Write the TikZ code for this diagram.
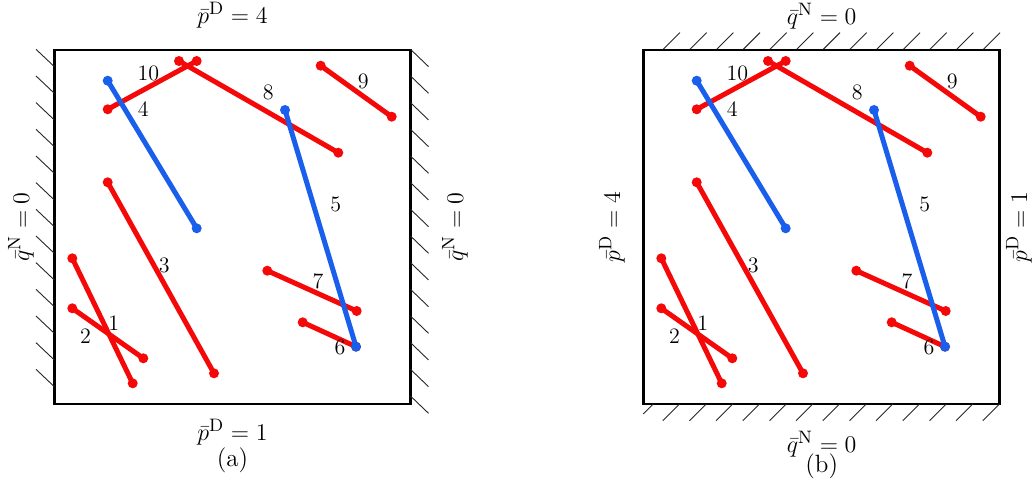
\documentclass[tikz,border=0pt]{standalone}
\usepackage{amsmath}
\definecolor{segred}{RGB}{245,8,8}
\definecolor{segblue}{RGB}{25,95,235}
\tikzset{
  redseg/.style={draw=segred, line width=2.5pt},
  blueseg/.style={draw=segblue, line width=2.5pt},
  frame/.style={draw=black, line width=1.4pt},
  hatch/.style={draw=black!85, line width=0.45pt},
  num/.style={inner sep=0pt, font=\fontsize{11}{13}\selectfont},
  bc/.style={inner sep=0pt, font=\fontsize{12.5}{15}\selectfont},
}
\newcommand{\drawpanel}{%
  \coordinate (s1a) at (72.3,258.3);  \coordinate (s1b) at (132.7,383.3);
  \coordinate (s2a) at (72.3,308.3);  \coordinate (s2b) at (143.3,358.3);
  \coordinate (s3a) at (107.7,182.3); \coordinate (s3b) at (214,373.3);
  \coordinate (s10a) at (107.7,109.3); \coordinate (s10b) at (196.7,61);
  \coordinate (s8a) at (179,61);      \coordinate (s8b) at (338.3,152.7);
  \coordinate (s9a) at (320.7,65.7);  \coordinate (s9b) at (391.7,116.7);
  \coordinate (s7a) at (267.3,270.7); \coordinate (s7b) at (356.7,311);
  \coordinate (s6a) at (302.7,322.3); \coordinate (s6b) at (356,346.7);
  \coordinate (s4a) at (107.7,80.7);  \coordinate (s4b) at (196.7,228.3);
  \coordinate (s5a) at (285,110);     \coordinate (s5b) at (356,346.7);
  \coordinate (bl) at (54.3,404); \coordinate (tr) at (410.5,50);
  \draw[frame] (bl) rectangle (tr);
  \foreach \s in {1,2,3,10,8,9,7,6}{
    \draw[redseg] (s\s a) -- (s\s b);
    \fill[segred] (s\s a) circle[radius=2.5pt] (s\s b) circle[radius=2.5pt];
  }
  \foreach \s in {4,5}{
    \draw[blueseg] (s\s a) -- (s\s b);
    \fill[segblue] (s\s a) circle[radius=2.5pt] (s\s b) circle[radius=2.5pt];
  }
  \node[num] (n10) at (148.3,73.3) {10};
  \node[num] (n4) at (143.3,109.3) {4};
  \node[num] (n8) at (268.3,92.3) {8};
  \node[num] (n9) at (363.3,81) {9};
  \node[num] (n5) at (335.7,204.3) {5};
  \node[num] (n3) at (164.3,265) {3};
  \node[num] (n7) at (318,281.3) {7};
  \node[num] (n1) at (113.7,323) {1};
  \node[num] (n2) at (85.5,336.5) {2};
  \node[num] (n6) at (340,347.7) {6};
}
\begin{document}
\begin{tikzpicture}[x=0.5pt,y=-0.5pt]
\useasboundingbox (0,0) rectangle (1032,486);
% panel (a)
\begin{scope}[name prefix=a-]
  \drawpanel
  \foreach \k in {0,...,12}{
    \draw[hatch] (36,{49.3+26.67*\k}) -- (54.3,{66.6+26.67*\k});
  }
  \foreach \k in {0,...,13}{
    \draw[hatch] (410.5,{49.3+26.67*\k}) -- (428.5,{66.6+26.67*\k});
  }
  \node[bc] (top) at (232.4,15) {$\bar{p}^{\mathrm{D}}=4$};
  \node[bc] (bot) at (232.4,432) {$\bar{p}^{\mathrm{D}}=1$};
  \node[bc] (cap) at (232.4,460) {(a)};
  \node[bc,rotate=90] (lft) at (21,227) {$\bar{q}^{\mathrm{N}}=0$};
  \node[bc,rotate=90] (rgt) at (455,227) {$\bar{q}^{\mathrm{N}}=0$};
\end{scope}
% panel (b)
\begin{scope}[name prefix=b-, shift={(589,0)}]
  \drawpanel
  \foreach \k in {0,...,12}{
    \draw[hatch] ({74.3+26.67*\k},49.3) -- ({91+26.67*\k},32.6);
  }
  \foreach \k in {0,...,12}{
    \draw[hatch] ({410.5-26.67*\k},404) -- ({393.8-26.67*\k},420.7);
  }
  \draw[hatch] (64.3,404) -- (54.3,414);
  \node[bc] (top) at (232.7,16) {$\bar{q}^{\mathrm{N}}=0$};
  \node[bc] (bot) at (232.7,444) {$\bar{q}^{\mathrm{N}}=0$};
  \node[bc] (cap) at (232.7,466) {(b)};
  \node[bc,rotate=90] (lft) at (23,227) {$\bar{p}^{\mathrm{D}}=4$};
  \node[bc,rotate=90] (rgt) at (430,227) {$\bar{p}^{\mathrm{D}}=1$};
\end{scope}
\end{tikzpicture}
\end{document}
